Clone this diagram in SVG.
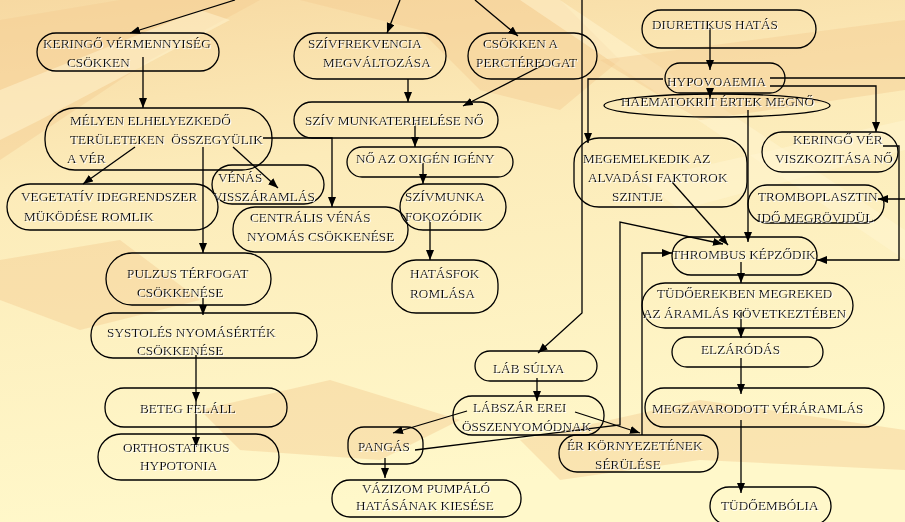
<svg xmlns="http://www.w3.org/2000/svg" width="905" height="522" viewBox="0 0 905 522">
<defs>
<linearGradient id="bg" x1="0" y1="0" x2="0.2" y2="1">
<stop offset="0" stop-color="#F7D9A2"/>
<stop offset="0.35" stop-color="#FCEBB9"/>
<stop offset="1" stop-color="#FFF8CA"/>
</linearGradient>
<filter id="sh" x="-5%" y="-20%" width="110%" height="140%">
<feDropShadow dx="1" dy="1" stdDeviation="0.3" flood-color="#FFFFFF" flood-opacity="1"/>
</filter>
<marker id="ah" markerUnits="userSpaceOnUse" markerWidth="11" markerHeight="9" refX="10" refY="4" orient="auto">
<path d="M0,0 L10,4 L0,8 Z" fill="#000"/>
</marker>
<style>
.n rect, .n ellipse { fill:none; stroke:#000; stroke-width:1.3; }
.n text { font-family:"Liberation Serif","Times New Roman",serif; font-size:13.3px; fill:#111; filter:url(#sh); white-space:pre; }
#connectors path { fill:none; stroke:#000; stroke-width:1.3; marker-end:url(#ah); }
#connectors path.plain { marker-end:none; }
.bgs { fill:#F3CD92; opacity:0.45; }
.bgl { fill:#FFF6D2; opacity:0.5; }
</style>
</defs>

<g id="background">
<rect x="0" y="0" width="905" height="522" fill="url(#bg)"/>
<path class="bgs" d="M0,20 L120,0 L260,0 L150,60 L60,120 L0,160 Z"/>
<path class="bgl" d="M0,90 L200,10 L230,20 L40,120 L0,140 Z"/>
<path class="bgs" d="M300,0 L560,0 L620,60 L560,110 L480,90 L420,30 Z"/>
<path class="bgl" d="M520,0 L560,0 L905,230 L905,260 Z"/>
<path class="bgs" d="M600,60 L905,20 L905,90 L700,120 Z"/>
<path class="bgs" d="M0,260 L120,240 L200,300 L80,330 L0,300 Z"/>
<path class="bgs" d="M200,410 L330,380 L460,420 L380,460 L240,450 Z"/>
<path class="bgs" d="M520,440 L700,400 L905,430 L905,470 L700,460 L560,480 Z"/>
<path class="bgl" d="M640,180 L905,120 L905,150 L680,210 Z"/>
</g>

<g id="connectors">
<path d="M235,0 L130,33"/>
<path d="M400,0 L387,33"/>
<path d="M475,0 L518,36"/>
<path d="M143,57 L143,108"/>
<path d="M408,79 L408,102"/>
<path d="M543,65 L463,106"/>
<path d="M415,123 L415,147"/>
<path d="M423,163 L423,184"/>
<path d="M430,220 L430,260"/>
<path d="M135,147 L83,184"/>
<path d="M203,147 L203,253"/>
<path d="M263,138 L332,138 L332,207"/>
<path d="M233,147 L278,188"/>
<path d="M203,298 L203,315"/>
<path d="M196,355 L196,402"/>
<path d="M196,402 L196,447"/>
<path d="M710,28 L710,70"/>
<path d="M710,88 L710,98"/>
<path d="M663,79 L588,79 L588,143"/>
<path d="M770,78 L912,78 L912,199 L878,199"/>
<path d="M770,86 L876,86 L876,132"/>
<path d="M883,146 L899,146 L899,260 L817,260"/>
<path d="M748,110 L748,242"/>
<path d="M672,182 L728,245"/>
<path d="M415,450 L620,425 L620,222 L723,244"/>
<path d="M642,435 L642,253 L672,253"/>
<path d="M582,0 L582,313 L538,353"/>
<path d="M537,378 L537,401"/>
<path d="M467,411 L393,433"/>
<path d="M575,412 L640,433"/>
<path d="M385,458 L385,478"/>
<path d="M741,262 L741,283"/>
<path d="M741,310 L741,338"/>
<path d="M741,358 L741,394"/>
<path d="M741,420 L741,493"/>
</g>

<g id="n-keringo-vermennyiseg" class="n">
<rect x="37" y="33" width="182" height="38" rx="19"/>
<text x="43" y="48">KERINGŐ VÉRMENNYISÉG</text>
<text x="67" y="67">CSÖKKEN</text>
</g>
<g id="n-szivfrekvencia" class="n">
<rect x="294" y="33" width="152" height="46" rx="23"/>
<text x="308" y="48">SZÍVFREKVENCIA</text>
<text x="323" y="67">MEGVÁLTOZÁSA</text>
</g>
<g id="n-perctérfogat" class="n">
<rect x="468" y="33" width="129" height="46" rx="23"/>
<text x="483" y="48">CSÖKKEN A</text>
<text x="476" y="67">PERCTÉRFOGAT</text>
</g>
<g id="n-diuretikus" class="n">
<rect x="642" y="10" width="174" height="38" rx="19"/>
<text x="652" y="29">DIURETIKUS HATÁS</text>
</g>
<g id="n-hypovoaemia" class="n">
<rect x="665" y="63" width="120" height="30" rx="15"/>
<text x="667" y="86">HYPOVOAEMIA</text>
</g>
<g id="n-haematokrit" class="n">
<ellipse cx="717" cy="105.5" rx="113" ry="11.5"/>
<text x="621" y="106">HAEMATOKRIT ÉRTEK MEGNŐ</text>
</g>
<g id="n-viszkozitas" class="n">
<rect x="762" y="132" width="136" height="40" rx="20"/>
<text x="793" y="144">KERINGŐ VÉR</text>
<text x="775" y="163">VISZKOZITÁSA NŐ</text>
</g>
<g id="n-alvadasi" class="n">
<rect x="574" y="138" width="173" height="69" rx="25"/>
<text x="583" y="163">MEGEMELKEDIK AZ</text>
<text x="588" y="182">ALVADÁSI FAKTOROK</text>
<text x="612" y="201">SZINTJE</text>
</g>
<g id="n-tromboplasztin" class="n">
<rect x="748" y="185" width="136" height="38" rx="19"/>
<text x="758" y="201">TROMBOPLASZTIN</text>
<text x="757" y="222">IDŐ MEGRÖVIDÜL</text>
</g>
<g id="n-thrombus" class="n">
<rect x="672" y="237" width="145" height="38" rx="19"/>
<text x="672" y="259">THROMBUS KÉPZŐDIK</text>
</g>
<g id="n-tudoerekben" class="n">
<rect x="642" y="283" width="211" height="45" rx="23"/>
<text x="657" y="298">TÜDŐEREKBEN MEGREKED</text>
<text x="643" y="318">AZ ÁRAMLÁS KÖVETKEZTÉBEN</text>
</g>
<g id="n-elzarodas" class="n">
<rect x="672" y="337" width="151" height="30" rx="15"/>
<text x="701" y="354">ELZÁRÓDÁS</text>
</g>
<g id="n-megzavarodott" class="n">
<rect x="645" y="388" width="239" height="39" rx="19"/>
<text x="652" y="413">MEGZAVARODOTT VÉRÁRAMLÁS</text>
</g>
<g id="n-tudoembolia" class="n">
<rect x="710" y="487" width="121" height="38" rx="19"/>
<text x="721" y="510">TÜDŐEMBÓLIA</text>
</g>

<g id="n-melyen" class="n">
<rect x="45" y="108" width="227" height="62" rx="30"/>
<text x="70" y="125">MÉLYEN ELHELYEZKEDŐ</text>
<text x="70" y="144">TERÜLETEKEN  ÖSSZEGYÜLIK</text>
<text x="67" y="163">A VÉR</text>
</g>
<g id="n-vegetativ" class="n">
<rect x="7" y="184" width="211" height="46" rx="23"/>
<text x="21" y="201">VEGETATÍV IDEGRENDSZER</text>
<text x="24" y="221">MÜKÖDÉSE ROMLIK</text>
</g>
<g id="n-venas-visszaramlas" class="n">
<rect x="212" y="165" width="112" height="39" rx="20"/>
<text x="218" y="182">VÉNÁS</text>
<text x="213" y="201">VISSZÁRAMLÁS</text>
</g>
<g id="n-centralis" class="n">
<rect x="233" y="207" width="175" height="45" rx="22"/>
<text x="250" y="222">CENTRÁLIS VÉNÁS</text>
<text x="247" y="241">NYOMÁS CSÖKKENÉSE</text>
</g>
<g id="n-pulzus" class="n">
<rect x="106" y="253" width="165" height="52" rx="26"/>
<text x="127" y="278">PULZUS TÉRFOGAT</text>
<text x="137" y="297">CSÖKKENÉSE</text>
</g>
<g id="n-systoles" class="n">
<rect x="91" y="313" width="226" height="45" rx="22"/>
<text x="107" y="337">SYSTOLÉS NYOMÁSÉRTÉK</text>
<text x="137" y="355">CSÖKKENÉSE</text>
</g>
<g id="n-beteg" class="n">
<rect x="105" y="388" width="182" height="39" rx="19"/>
<text x="140" y="413">BETEG FELÁLL</text>
</g>
<g id="n-orthostatikus" class="n">
<rect x="98" y="434" width="181" height="46" rx="23"/>
<text x="123" y="452">ORTHOSTATIKUS</text>
<text x="140" y="470">HYPOTONIA</text>
</g>
<g id="n-sziv-munkaterhelese" class="n">
<rect x="294" y="102" width="204" height="36" rx="18"/>
<text x="305" y="125">SZÍV MUNKATERHELÉSE NŐ</text>
</g>
<g id="n-oxigen" class="n">
<rect x="347" y="147" width="166" height="30" rx="15"/>
<text x="356" y="163">NŐ AZ OXIGÉN IGÉNY</text>
</g>
<g id="n-szivmunka" class="n">
<rect x="400" y="184" width="106" height="46" rx="23"/>
<text x="405" y="201">SZÍVMUNKA</text>
<text x="405" y="221">FOKOZÓDIK</text>
</g>
<g id="n-hatasfok" class="n">
<rect x="392" y="260" width="106" height="53" rx="24"/>
<text x="410" y="278">HATÁSFOK</text>
<text x="410" y="298">ROMLÁSA</text>
</g>
<g id="n-lab-sulya" class="n">
<rect x="475" y="351" width="122" height="30" rx="15"/>
<text x="493" y="373">LÁB SÚLYA</text>
</g>
<g id="n-labszar" class="n">
<rect x="453" y="396" width="151" height="39" rx="19"/>
<text x="473" y="412">LÁBSZÁR EREI</text>
<text x="462" y="431">ÖSSZENYOMÓDNAK</text>
</g>
<g id="n-pangas" class="n">
<rect x="348" y="427" width="75" height="37" rx="16"/>
<text x="358" y="451">PANGÁS</text>
</g>
<g id="n-vazizom" class="n">
<rect x="332" y="480" width="189" height="37" rx="18"/>
<text x="362" y="493">VÁZIZOM PUMPÁLÓ</text>
<text x="356" y="510">HATÁSÁNAK KIESÉSE</text>
</g>
<g id="n-er-kornyezet" class="n">
<rect x="559" y="435" width="159" height="37" rx="18"/>
<text x="567" y="450">ÉR KÖRNYEZETÉNEK</text>
<text x="595" y="469">SÉRÜLÉSE</text>
</g>
</svg>
